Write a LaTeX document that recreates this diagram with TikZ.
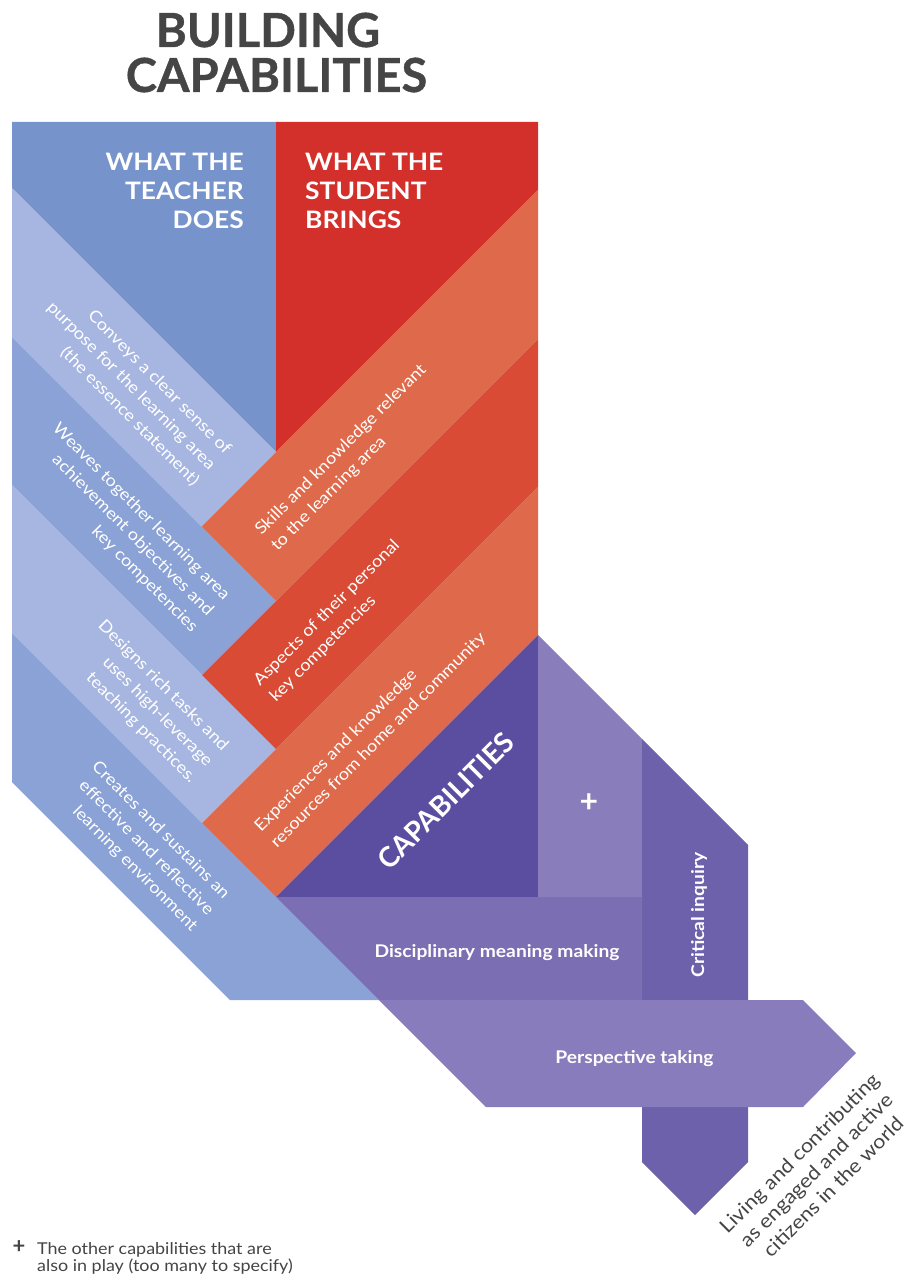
\documentclass[tikz,border=0pt]{standalone}
\usepackage{fontspec}
\setmainfont{Lato}
\newfontfamily\widefont{Lato}[FakeStretch=1.1]
\newfontfamily\heavyfont{Lato}[FakeBold=0.8]
\definecolor{titlegray}{HTML}{454545}
\definecolor{footgray}{HTML}{444444}
\definecolor{bluedark}{HTML}{7693CC}
\definecolor{bluelight}{HTML}{A7B6E1}
\definecolor{bluemid}{HTML}{8AA2D5}
\definecolor{reddark}{HTML}{D3302B}
\definecolor{orangeband}{HTML}{DE6A4B}
\definecolor{redmid}{HTML}{D94B35}
\definecolor{capab}{HTML}{5B4DA0}
\definecolor{pluscol}{HTML}{897DBB}
\definecolor{discol}{HTML}{7B6EB3}
\definecolor{critcol}{HTML}{6E61AB}
\definecolor{perscol}{HTML}{897CBC}
\begin{document}
\begin{tikzpicture}[x=1pt,y=-1pt,
  bandtxt/.style={text=white, inner sep=0pt, font=\widefont\fontsize{16.5}{22.6}\selectfont},
  bluetxt/.style={bandtxt, rotate=-45, align=right},
  orangetxt/.style={bandtxt, rotate=45, align=left},
  purplelbl/.style={text=white, inner sep=0pt, font=\widefont\fontsize{17.5}{20}\selectfont\bfseries},
  headtxt/.style={text=white, inner sep=0pt, font=\widefont\fontsize{24}{29}\selectfont\bfseries},
  titletxt/.style={text=titlegray, inner sep=0pt, font=\heavyfont\fontsize{47}{50}\selectfont\bfseries}
  ]
\useasboundingbox (0,0) rectangle (914,1279);
% top blocks
\fill[bluedark] (12,122) -- (276,122) -- (276,452) -- (12,188) -- cycle;
\fill[reddark] (276,122) -- (538,122) -- (538,190) -- (276,452) -- cycle;
% blue bands
\fill[bluelight] (12,188) -- (276,452) -- (201.5,526.5) -- (12,337) -- cycle;
\fill[bluemid] (12,337) -- (276,601) -- (202,675) -- (12,485) -- cycle;
\fill[bluelight] (12,485) -- (276,749) -- (202,823) -- (12,633) -- cycle;
\fill[bluemid] (12,633) -- (379,1000) -- (230,1000) -- (12,782) -- cycle;
% orange bands
\fill[orangeband] (201.5,526.5) -- (538,190) -- (538,339) -- (276,601) -- cycle;
\fill[redmid] (202,675) -- (538,339) -- (538,487) -- (276,749) -- cycle;
\fill[orangeband] (202,823) -- (538,487) -- (538,635) -- (276,897) -- cycle;
% purple
\fill[capab] (276,897) -- (538,635) -- (538,897) -- cycle;
\fill[pluscol] (538,635) -- (642,739) -- (642,897) -- (538,897) -- cycle;
\fill[critcol] (642,739) -- (748,845) -- (748,1162) -- (695,1215) -- (642,1162) -- cycle;
\fill[discol] (276,897) -- (642,897) -- (642,1000) -- (379,1000) -- cycle;
\fill[perscol] (379,1000) -- (803,1000) -- (856,1053) -- (803,1107) -- (486,1107) -- cycle;

% title
\node[titletxt, anchor=base] (t1) at (268,47) {BUILDING};
\node[titletxt, anchor=base] (t2) at (276.5,92) {CAPABILITIES};
% headers
\node[headtxt, align=right, anchor=north east] (teach) at (244,153) {WHAT THE\\TEACHER\\DOES};
\node[headtxt, align=left, anchor=north west] (stud) at (305,153) {WHAT THE\\STUDENT\\BRINGS};
% blue texts
\node[bluetxt] (b1) at (131,386) {Conveys a clear sense of\\purpose for the learning area\\(the essence statement)};
\node[bluetxt] (b2) at (125,528) {Weaves together learning area\\achievement objectives and\\key competencies};
\node[bluetxt] (b3) at (147,702) {Designs rich tasks and\\uses high-leverage\\teaching practices.};
\node[bluetxt] (b4) at (144.5,846.5) {Creates and sustains an\\effective and reflective\\learning environment};
% orange texts
\node[orangetxt] (o1) at (349,458) {Skills and knowledge relevant\\to the learning area};
\node[orangetxt] (o2) at (335,621) {Aspects of their personal\\key competencies};
\node[orangetxt] (o3) at (370.5,732.5) {Experiences and knowledge\\resources from home and community};
% purple labels
\node[text=white, inner sep=0pt, rotate=45, font=\fontsize{28}{30}\selectfont\bfseries] (cap) at (446,801) {CAPABILITIES};
\node[text=white, inner sep=0pt, font=\fontsize{32}{32}\selectfont\bfseries] (plus) at (589,803) {+};
\node[purplelbl, anchor=base] (disc) at (497,957.5) {Disciplinary meaning making};
\node[purplelbl, rotate=90] (crit) at (699,915) {Critical inquiry};
\node[purplelbl, anchor=base] (pers) at (634.5,1063) {Perspective taking};
% outcome
\node[text=footgray, inner sep=0pt, rotate=45, align=center, font=\widefont\fontsize{19.5}{24}\selectfont] (live) at (816,1170) {Living and contributing\\as engaged and active\\citizens in the world};
% footnote
\node[text=footgray, inner sep=0pt, font=\fontsize{22}{22}\selectfont\bfseries] (fnplus) at (19,1247) {+};
\node[text=footgray, inner sep=0pt, align=left, anchor=north west, font=\widefont\fontsize{16.3}{17}\selectfont] (fn) at (37,1242) {The other capabilities that are\\also in play (too many to specify)};
\end{tikzpicture}
\end{document}
